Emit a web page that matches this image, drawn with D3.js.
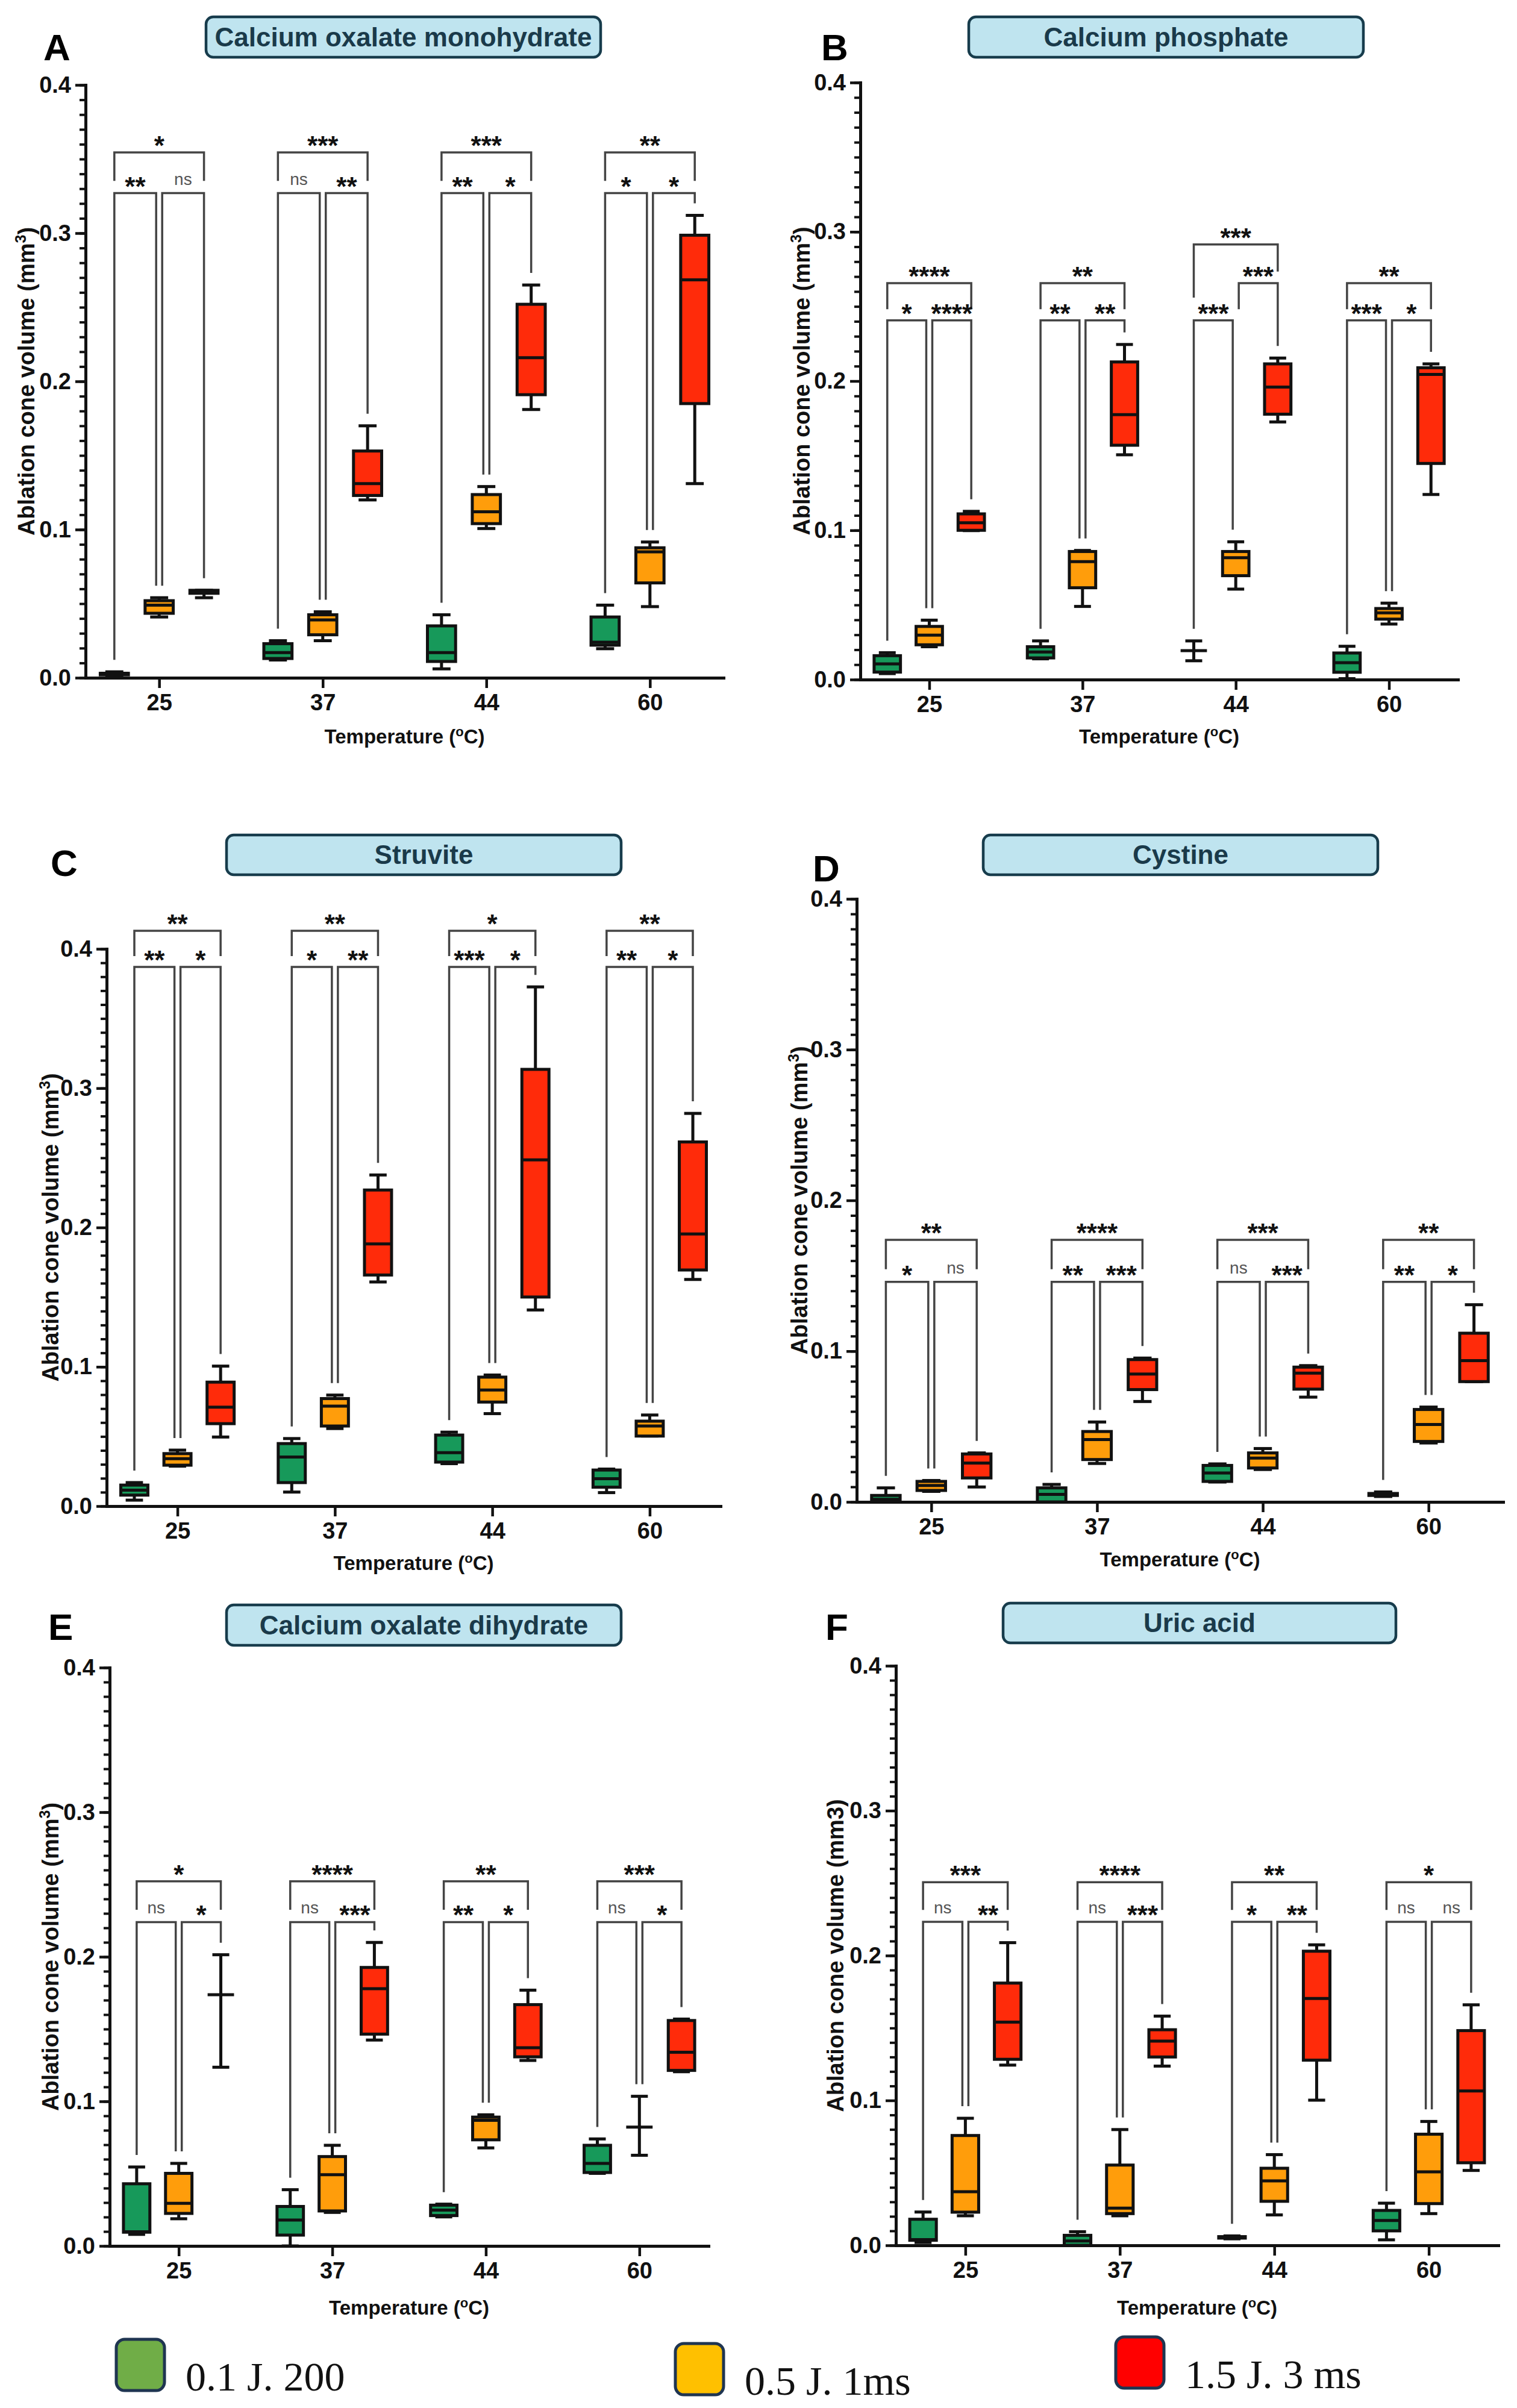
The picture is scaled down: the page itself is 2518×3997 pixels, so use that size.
<!DOCTYPE html>
<html>
<head>
<meta charset="utf-8">
<script src="https://cdn.jsdelivr.net/npm/d3@7"></script>
<style>
  body { margin: 0; background: #fff; }
</style>
</head>
<body>
<script>
// Categories, groups, ticks
const temps = ["25", "37", "44", "60"];
const groups = ["0.1 J. 200", "0.5 J. 1ms", "1.5 J. 3 ms"];
const yTicks = [0, 0.1, 0.2, 0.3, 0.4];

// box stats: temp, group index, min, q1, median, q3, max (null q1/q3 = no box)
const boxesA = [
  ["25", 0, 0.001, 0.002, 0.003, 0.003, 0.004],
  ["25", 1, 0.041, 0.0435, 0.049, 0.052, 0.054],
  ["25", 2, 0.054, 0.057, 0.058, 0.059, 0.059],
  ["37", 0, 0.012, 0.013, 0.017, 0.023, 0.025],
  ["37", 1, 0.025, 0.029, 0.039, 0.0425, 0.0445],
  ["37", 2, 0.120, 0.123, 0.131, 0.153, 0.170],
  ["44", 0, 0.006, 0.011, 0.017, 0.035, 0.0425],
  ["44", 1, 0.1007, 0.104, 0.112, 0.1236, 0.129],
  ["44", 2, 0.181, 0.191, 0.216, 0.252, 0.265],
  ["60", 0, 0.0196, 0.022, 0.024, 0.041, 0.049],
  ["60", 1, 0.048, 0.064, 0.085, 0.0877, 0.0916],
  ["60", 2, 0.131, 0.185, 0.2685, 0.2986, 0.312]
];
const boxesB = [
  ["25", 0, 0.004, 0.005, 0.0105, 0.016, 0.018],
  ["25", 1, 0.022, 0.0233, 0.0298, 0.0356, 0.0398],
  ["25", 2, 0.0998, 0.1, 0.105, 0.111, 0.1127],
  ["37", 0, 0.0139, 0.0145, 0.0185, 0.022, 0.0259],
  ["37", 1, 0.049, 0.0615, 0.079, 0.0858, 0.0865],
  ["37", 2, 0.1506, 0.157, 0.1775, 0.2128, 0.2245],
  ["44", 0, 0.0126, null, 0.0194, null, 0.0259],
  ["44", 1, 0.0606, 0.0696, 0.0816, 0.0858, 0.0923],
  ["44", 2, 0.1726, 0.1778, 0.196, 0.2115, 0.2154],
  ["60", 0, 0.0006, 0.0049, 0.0113, 0.0178, 0.0223],
  ["60", 1, 0.0372, 0.0405, 0.0447, 0.0476, 0.0512],
  ["60", 2, 0.124, 0.1448, 0.2044, 0.2089, 0.2115]
];
const boxesC = [
  ["25", 0, 0.0043, 0.0079, 0.0115, 0.0151, 0.0169],
  ["25", 1, 0.0287, 0.0294, 0.0341, 0.0377, 0.0402],
  ["25", 2, 0.0496, 0.0592, 0.071, 0.089, 0.1005],
  ["37", 0, 0.0101, 0.0169, 0.0352, 0.0449, 0.0485],
  ["37", 1, 0.0557, 0.0575, 0.0718, 0.0772, 0.0797],
  ["37", 2, 0.1609, 0.1659, 0.1882, 0.2269, 0.2377],
  ["44", 0, 0.0305, 0.0316, 0.0384, 0.051, 0.0531],
  ["44", 1, 0.0664, 0.0747, 0.0833, 0.0926, 0.0941],
  ["44", 2, 0.1408, 0.1501, 0.2485, 0.3135, 0.3727],
  ["60", 0, 0.0097, 0.0136, 0.0197, 0.0259, 0.0266],
  ["60", 1, 0.0503, 0.0503, 0.0575, 0.061, 0.0654],
  ["60", 2, 0.1627, 0.1695, 0.1953, 0.2614, 0.2819]
];
const boxesD = [
  ["25", 0, 0, 0, 0.0017, 0.0043, 0.0093],
  ["25", 1, 0.007, 0.0076, 0.0109, 0.0136, 0.0142],
  ["25", 2, 0.0099, 0.0159, 0.0258, 0.0318, 0.0325],
  ["37", 0, 0, 0, 0.005, 0.0093, 0.0116],
  ["37", 1, 0.0255, 0.0281, 0.0414, 0.0467, 0.053],
  ["37", 2, 0.0666, 0.0745, 0.0848, 0.0944, 0.0954],
  ["44", 0, 0.0132, 0.0136, 0.0192, 0.0242, 0.0252],
  ["44", 1, 0.0215, 0.0225, 0.0291, 0.0325, 0.0354],
  ["44", 2, 0.0695, 0.0748, 0.0854, 0.0894, 0.0904],
  ["60", 0, 0.0036, 0.0043, 0.005, 0.0056, 0.0066],
  ["60", 1, 0.0391, 0.0401, 0.0513, 0.0613, 0.0629],
  ["60", 2, 0.0798, 0.0798, 0.0937, 0.1119, 0.1308]
];
const boxesE = [
  ["25", 0, 0.008, 0.0095, 0.0098, 0.043, 0.0546],
  ["25", 1, 0.0188, 0.0225, 0.0295, 0.0502, 0.0571],
  ["25", 2, 0.1236, null, 0.1738, null, 0.2014],
  ["37", 0, 0, 0.0075, 0.0179, 0.0273, 0.0389],
  ["37", 1, 0.0232, 0.0242, 0.0493, 0.0618, 0.0696],
  ["37", 2, 0.1424, 0.1465, 0.1779, 0.1926, 0.2099],
  ["44", 0, 0.0201, 0.021, 0.0248, 0.0282, 0.0289],
  ["44", 1, 0.0678, 0.0734, 0.0869, 0.0891, 0.0907],
  ["44", 2, 0.1283, 0.1308, 0.1371, 0.1669, 0.1769],
  ["60", 0, 0.0502, 0.0508, 0.0571, 0.0696, 0.074],
  ["60", 1, 0.0627, null, 0.0822, null, 0.1035],
  ["60", 2, 0.1205, 0.1214, 0.134, 0.1559, 0.1569]
];
const boxesF = [
  ["25", 0, 0.002, 0.0035, 0.004, 0.018, 0.023],
  ["25", 1, 0.0204, 0.0229, 0.037, 0.0758, 0.0877],
  ["25", 2, 0.1244, 0.1284, 0.1541, 0.181, 0.2089],
  ["37", 0, 0, 0, 0.003, 0.0069, 0.0094],
  ["37", 1, 0.0204, 0.0219, 0.0257, 0.0554, 0.0799],
  ["37", 2, 0.1237, 0.13, 0.141, 0.1488, 0.1582],
  ["44", 0, 0.0045, 0.005, 0.0056, 0.006, 0.0065],
  ["44", 1, 0.021, 0.0304, 0.0445, 0.0532, 0.0626],
  ["44", 2, 0.1002, 0.1278, 0.1704, 0.203, 0.2074],
  ["60", 0, 0.0038, 0.01, 0.0172, 0.0241, 0.0291],
  ["60", 1, 0.0219, 0.0288, 0.0507, 0.0767, 0.0855],
  ["60", 2, 0.0517, 0.057, 0.1065, 0.1482, 0.166]
];

// significance brackets: temp, from group, to group, bracket level, label
const sigA = [
  ["25", 0, 2, 0.3545, "*"], ["25", 0, 1, 0.327, "**"], ["25", 1, 2, 0.327, "ns"],
  ["37", 0, 2, 0.3545, "***"], ["37", 0, 1, 0.327, "ns"], ["37", 1, 2, 0.327, "**"],
  ["44", 0, 2, 0.3545, "***"], ["44", 0, 1, 0.327, "**"], ["44", 1, 2, 0.327, "*"],
  ["60", 0, 2, 0.3545, "**"], ["60", 0, 1, 0.327, "*"], ["60", 1, 2, 0.327, "*"]
];
const sigB = [
  ["25", 0, 2, 0.2656, "****"], ["25", 0, 1, 0.2407, "*"], ["25", 1, 2, 0.2407, "****"],
  ["37", 0, 2, 0.2656, "**"], ["37", 0, 1, 0.2407, "**"], ["37", 1, 2, 0.2407, "**"],
  ["44", 0, 2, 0.2915, "***"], ["44", 1, 2, 0.2656, "***"], ["44", 0, 1, 0.2407, "***"],
  ["60", 0, 2, 0.2656, "**"], ["60", 0, 1, 0.2407, "***"], ["60", 1, 2, 0.2407, "*"]
];
const sigC = [
  ["25", 0, 2, 0.413, "**"], ["25", 0, 1, 0.387, "**"], ["25", 1, 2, 0.387, "*"],
  ["37", 0, 2, 0.413, "**"], ["37", 0, 1, 0.387, "*"], ["37", 1, 2, 0.387, "**"],
  ["44", 0, 2, 0.413, "*"], ["44", 0, 1, 0.387, "***"], ["44", 1, 2, 0.387, "*"],
  ["60", 0, 2, 0.413, "**"], ["60", 0, 1, 0.387, "**"], ["60", 1, 2, 0.387, "*"]
];
const sigD = [
  ["25", 0, 2, 0.1738, "**"], ["25", 0, 1, 0.146, "*"], ["25", 1, 2, 0.146, "ns"],
  ["37", 0, 2, 0.1738, "****"], ["37", 0, 1, 0.146, "**"], ["37", 1, 2, 0.146, "***"],
  ["44", 0, 2, 0.1738, "***"], ["44", 0, 1, 0.146, "ns"], ["44", 1, 2, 0.146, "***"],
  ["60", 0, 2, 0.1738, "**"], ["60", 0, 1, 0.146, "**"], ["60", 1, 2, 0.146, "*"]
];
const sigE = [
  ["25", 0, 2, 0.2522, "*"], ["25", 0, 1, 0.224, "ns"], ["25", 1, 2, 0.224, "*"],
  ["37", 0, 2, 0.2522, "****"], ["37", 0, 1, 0.224, "ns"], ["37", 1, 2, 0.224, "***"],
  ["44", 0, 2, 0.2522, "**"], ["44", 0, 1, 0.224, "**"], ["44", 1, 2, 0.224, "*"],
  ["60", 0, 2, 0.2522, "***"], ["60", 0, 1, 0.224, "ns"], ["60", 1, 2, 0.224, "*"]
];
const sigF = [
  ["25", 0, 2, 0.2506, "***"], ["25", 0, 1, 0.2233, "ns"], ["25", 1, 2, 0.2233, "**"],
  ["37", 0, 2, 0.2506, "****"], ["37", 0, 1, 0.2233, "ns"], ["37", 1, 2, 0.2233, "***"],
  ["44", 0, 2, 0.2506, "**"], ["44", 0, 1, 0.2233, "*"], ["44", 1, 2, 0.2233, "**"],
  ["60", 0, 2, 0.2506, "*"], ["60", 0, 1, 0.2233, "ns"], ["60", 1, 2, 0.2233, "ns"]
];

const titles = ["Calcium oxalate monohydrate", "Calcium phosphate", "Struvite",
  "Cystine", "Calcium oxalate dihydrate", "Uric acid"];
const letters = ["A", "B", "C", "D", "E", "F"];

const boxColors = ["#17995a", "#ff9d0b", "#ff2b0a"];
const legendColors = ["#70ad47", "#ffc000", "#ff0000"];

// panel layout (pixels)
const layout = [
  { ax: 142, xEnd: 1201, y0: 1125, y04: 141, box: [342, 28, 655, 67], let: [72, 100], ytx: 44, xty: 1222, sup: true },
  { ax: 1428, xEnd: 2420, y0: 1128, y04: 137, box: [1608, 28, 655, 67], let: [1363, 100], ytx: 1331, xty: 1222, sup: true },
  { ax: 177, xEnd: 1196, y0: 2500, y04: 1575, box: [376, 1386, 655, 66], let: [84, 1454], ytx: 84, xty: 2594, sup: true },
  { ax: 1422, xEnd: 2495, y0: 2493, y04: 1492, box: [1632, 1386, 655, 66], let: [1349, 1463], ytx: 1327, xty: 2588, sup: true },
  { ax: 182, xEnd: 1176, y0: 3728, y04: 2768, box: [376, 2664, 655, 67], let: [80, 2722], ytx: 84, xty: 3830, sup: true },
  { ax: 1487, xEnd: 2487, y0: 3727, y04: 2765, box: [1665, 2661, 652, 66], let: [1370, 2722], ytx: 1387, xty: 3830, sup: false }
];
const allBoxes = [boxesA, boxesB, boxesC, boxesD, boxesE, boxesF];
const allSig = [sigA, sigB, sigC, sigD, sigE, sigF];

const FONT = "'Liberation Sans', Arial, Helvetica, sans-serif";

const svg = d3.select("body").append("svg")
  .attr("width", 2518)
  .attr("height", 3997)
  .style("display", "block");

svg.append("rect").attr("width", 2518).attr("height", 3997).attr("fill", "#fff");

function drawPanel(i) {
  const p = layout[i];
  const boxes = allBoxes[i];
  const sig = allSig[i];
  const g = svg.append("g");

  const y = d3.scaleLinear().domain([0, 0.4]).range([p.y0, p.y04]);
  const x = d3.scalePoint().domain(temps).range([p.ax, p.xEnd]).padding(0.45);
  const step = x.step();
  const off = d3.scalePoint().domain([0, 1, 2]).range([-0.274 * step, 0.274 * step]);
  const bw = 0.172 * step;
  const cw = 0.11 * step;
  const cx = (t, gi) => x(t) + off(gi);

  // title box
  g.append("rect")
    .attr("x", p.box[0]).attr("y", p.box[1])
    .attr("width", p.box[2]).attr("height", p.box[3])
    .attr("rx", 12)
    .attr("fill", "#bfe4ef")
    .attr("stroke", "#173c4c")
    .attr("stroke-width", 4.5);
  g.append("text")
    .attr("x", p.box[0] + p.box[2] / 2)
    .attr("y", p.box[1] + p.box[3] / 2 + 15)
    .attr("text-anchor", "middle")
    .attr("font-family", FONT)
    .attr("font-weight", "bold")
    .attr("font-size", 44)
    .attr("fill", "#1a3a4a")
    .text(titles[i]);

  // panel letter
  g.append("text")
    .attr("x", p.let[0]).attr("y", p.let[1])
    .attr("font-family", FONT)
    .attr("font-weight", "bold")
    .attr("font-size", 62)
    .attr("fill", "#000")
    .text(letters[i]);

  // minor y ticks
  g.append("g")
    .attr("transform", `translate(${p.ax},0)`)
    .call(d3.axisLeft(y).tickValues(y.ticks(40)).tickSize(10).tickFormat(""))
    .call(a => a.select(".domain").remove())
    .call(a => a.selectAll("line").attr("stroke", "#111").attr("stroke-width", 4));

  // major y axis
  g.append("g")
    .attr("transform", `translate(${p.ax},0)`)
    .call(d3.axisLeft(y).tickValues(yTicks).tickFormat(d3.format(".1f"))
      .tickSize(17).tickSizeOuter(0).tickPadding(7))
    .call(a => a.select(".domain").attr("stroke", "#111").attr("stroke-width", 5).attr("stroke-linecap", "square"))
    .call(a => a.selectAll("line").attr("stroke", "#111").attr("stroke-width", 4.5))
    .call(a => a.selectAll("text").attr("font-family", FONT).attr("font-weight", "bold")
      .attr("font-size", 38).attr("fill", "#111"));

  // x axis
  g.append("g")
    .attr("transform", `translate(0,${p.y0})`)
    .call(d3.axisBottom(x).tickSize(17).tickSizeOuter(0).tickPadding(10))
    .call(a => a.select(".domain").attr("stroke", "#111").attr("stroke-width", 5).attr("stroke-linecap", "square"))
    .call(a => a.selectAll("line").attr("stroke", "#111").attr("stroke-width", 4.5))
    .call(a => a.selectAll("text").attr("font-family", FONT).attr("font-weight", "bold")
      .attr("font-size", 38).attr("fill", "#111"));

  // y axis title
  const yt = g.append("text")
    .attr("transform", `translate(${p.ytx},${(p.y0 + p.y04) / 2}) rotate(-90)`)
    .attr("y", 13)
    .attr("text-anchor", "middle")
    .attr("font-family", FONT)
    .attr("font-weight", "bold")
    .attr("font-size", 38)
    .attr("fill", "#111");
  if (p.sup) {
    yt.append("tspan").text("Ablation cone volume (mm");
    yt.append("tspan").attr("baseline-shift", "super").attr("font-size", 25).text("3");
    yt.append("tspan").text(")");
  } else {
    yt.text("Ablation cone volume (mm3)");
  }

  // x axis title
  const xt = g.append("text")
    .attr("x", (p.ax + p.xEnd) / 2)
    .attr("y", p.xty + 12)
    .attr("text-anchor", "middle")
    .attr("font-family", FONT)
    .attr("font-weight", "bold")
    .attr("font-size", 33)
    .attr("fill", "#111");
  xt.append("tspan").text("Temperature (");
  xt.append("tspan").attr("baseline-shift", "super").attr("font-size", 22).text("o");
  xt.append("tspan").text("C)");

  // significance brackets
  const boxMax = (t, gi) => boxes.find(r => r[0] === t && r[1] === gi)[6];
  function legBottom(s, gi) {
    const lower = sig.filter(o => o !== s && o[0] === s[0] && o[3] < s[3] &&
      Math.min(o[1], o[2]) <= gi && gi <= Math.max(o[1], o[2]));
    if (lower.length) {
      const m = d3.max(lower, o => o[3]);
      return y(m + 0.3 * (s[3] - m));
    }
    return y(boxMax(s[0], gi)) - 20;
  }

  const sg = g.append("g");
  sig.forEach(s => {
    let xa = cx(s[0], s[1]);
    let xb = cx(s[0], s[2]);
    if (s[1] === 1) xa += 5;
    if (s[2] === 1) xb -= 5;
    const ly = y(s[3]);
    sg.append("path")
      .attr("d", `M${xa},${legBottom(s, s[1])}V${ly}H${xb}V${legBottom(s, s[2])}`)
      .attr("fill", "none")
      .attr("stroke", "#444")
      .attr("stroke-width", 3.5);
    const ns = s[4] === "ns";
    sg.append("text")
      .attr("x", (xa + xb) / 2)
      .attr("y", ns ? ly - 14 : ly + 4)
      .attr("text-anchor", "middle")
      .attr("font-family", FONT)
      .attr("font-weight", ns ? "normal" : "bold")
      .attr("font-size", ns ? 28 : 44)
      .attr("fill", ns ? "#555" : "#111")
      .text(s[4]);
  });

  // boxes
  const bg = g.append("g").attr("stroke", "#111").attr("stroke-width", 5);
  boxes.forEach(r => {
    const [t, gi, mn, q1, md, q3, mx] = r;
    const X = cx(t, gi);
    if (q1 !== null) {
      bg.append("line").attr("x1", X).attr("x2", X).attr("y1", y(mx)).attr("y2", y(q3));
      bg.append("line").attr("x1", X).attr("x2", X).attr("y1", y(q1)).attr("y2", y(mn));
    } else {
      bg.append("line").attr("x1", X).attr("x2", X).attr("y1", y(mx)).attr("y2", y(mn));
    }
    bg.append("line").attr("x1", X - cw / 2).attr("x2", X + cw / 2).attr("y1", y(mx)).attr("y2", y(mx));
    bg.append("line").attr("x1", X - cw / 2).attr("x2", X + cw / 2).attr("y1", y(mn)).attr("y2", y(mn));
    if (q1 !== null) {
      bg.append("rect")
        .attr("x", X - bw / 2)
        .attr("y", y(q3))
        .attr("width", bw)
        .attr("height", y(q1) - y(q3))
        .attr("fill", boxColors[gi]);
    }
    bg.append("line").attr("x1", X - bw / 2).attr("x2", X + bw / 2).attr("y1", y(md)).attr("y2", y(md));
  });
}

for (let i = 0; i < 6; i++) drawPanel(i);

// legend
const legendPos = [[193, 3883], [1121, 3890], [1852, 3879]];
const lg = svg.append("g");
groups.forEach((name, i) => {
  const [lx, ly] = legendPos[i];
  lg.append("rect")
    .attr("x", lx).attr("y", ly)
    .attr("width", 80).attr("height", 85)
    .attr("rx", 14)
    .attr("fill", legendColors[i])
    .attr("stroke", "#1f3551")
    .attr("stroke-width", 5);
  lg.append("text")
    .attr("x", lx + 115)
    .attr("y", ly + 85)
    .attr("font-family", "'Liberation Serif', 'Times New Roman', serif")
    .attr("font-size", 68)
    .attr("fill", "#111")
    .text(name);
});
</script>
</body>
</html>
